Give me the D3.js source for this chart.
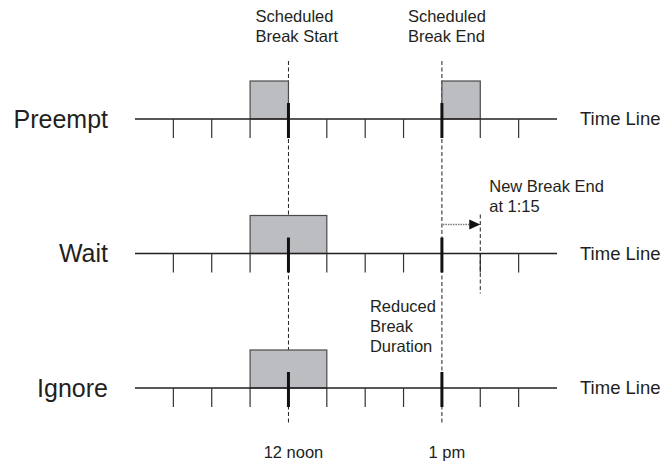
<!DOCTYPE html>
<html>
<head>
<meta charset="utf-8">
<script src="https://cdn.jsdelivr.net/npm/d3@7"></script>
<style>
  body { margin: 0; background: #fff; }
  text { font-family: "Liberation Sans", Arial, sans-serif; fill: #231f20; }
</style>
</head>
<body>
<div id="chart-area"></div>
<script>
// minutes relative to 12 noon
var rows = ["Preempt", "Wait", "Ignore"];
var tickMinutes = [-45, -30, -15, 0, 15, 30, 45, 60, 75, 90];
var majorMinutes = [0, 60];
var majorLabels = ["12 noon", "1 pm"];
var breakRows = ["Preempt", "Preempt", "Wait", "Ignore"];
var breakStarts = [-15, 60, -15, -15];
var breakEnds = [0, 75, 15, 15];
var newBreakEnd = 75;

var width = 667, height = 464;

var svg = d3.select("#chart-area").append("svg")
    .attr("width", width)
    .attr("height", height)

var x = d3.scaleLinear().domain([-60, 105]).range([135, 557]);
var y = d3.scalePoint().domain(rows).range([119, 388]);

// dashed guides at scheduled start / end
svg.selectAll(".guide")
    .data(majorMinutes)
    .enter().append("line")
    .attr("class", "guide")
    .attr("x1", (d) => {return x(d)})
    .attr("x2", (d) => {return x(d)})
    .attr("y1", 61)
    .attr("y2", 425)
    .attr("stroke", "#231f20")
    .attr("stroke-width", 1)
    .attr("stroke-dasharray", "4,2.5")

// break boxes
var breaks = breakRows.map((r, i) => {return {row: r, start: breakStarts[i], end: breakEnds[i]}});
svg.selectAll(".brk")
    .data(breaks)
    .enter().append("rect")
    .attr("class", "brk")
    .attr("x", (d) => {return x(d.start)})
    .attr("y", (d) => {return y(d.row) - 38})
    .attr("width", (d) => {return x(d.end) - x(d.start)})
    .attr("height", 38)
    .attr("fill", "#bcbdc0")
    .attr("stroke", "#4a4a4a")
    .attr("stroke-width", 1.2)

// time lines
rows.forEach((r) => {
    var g = svg.append("g").attr("transform", "translate(0, " + y(r) + ")");
    g.append("line")
        .attr("x1", x.range()[0])
        .attr("x2", x.range()[1])
        .attr("stroke", "#231f20")
        .attr("stroke-width", 1.3)
    g.selectAll(".tk")
        .data(tickMinutes.filter((d) => {return majorMinutes.indexOf(d) < 0}))
        .enter().append("line")
        .attr("class", "tk")
        .attr("x1", (d) => {return x(d)})
        .attr("x2", (d) => {return x(d)})
        .attr("y1", 0)
        .attr("y2", 19)
        .attr("stroke", "#333")
        .attr("stroke-width", 1.2)
    g.selectAll(".major")
        .data(majorMinutes)
        .enter().append("line")
        .attr("class", "major")
        .attr("x1", (d) => {return x(d)})
        .attr("x2", (d) => {return x(d)})
        .attr("y1", -16)
        .attr("y2", 19)
        .attr("stroke", "#111")
        .attr("stroke-width", 3)
    g.append("text")
        .attr("x", 108)
        .attr("y", 0)
        .attr("dy", "0.35em")
        .attr("text-anchor", "end")
        .style("font-size", "25px")
        .text(r)
    g.append("text")
        .attr("x", 580)
        .attr("y", 0)
        .attr("dy", "0.35em")
        .style("font-size", "18.5px")
        .text("Time Line")
})

// bottom time labels
svg.selectAll(".tlabel")
    .data(majorMinutes)
    .enter().append("text")
    .attr("class", "tlabel")
    .attr("x", (d) => {return x(d) + 5})
    .attr("y", 458)
    .attr("text-anchor", "middle")
    .style("font-size", "16.5px")
    .text((d, i) => {return majorLabels[i]})

function multiline(lines, x0, y0) {
    var t = svg.append("text").style("font-size", "16.5px");
    lines.forEach((s, i) => {
        t.append("tspan").attr("x", x0).attr("y", y0 + i * 20).text(s)
    })
}
multiline(["Scheduled", "Break Start"], x(0) - 33, 22)
multiline(["Scheduled", "Break End"], x(60) - 34, 22)
multiline(["New Break End", "at 1:15"], x(newBreakEnd) + 9, 192)
multiline(["Reduced", "Break", "Duration"], x(60) - 72, 312)

// extension of the break in Wait
var yw = y("Wait");
svg.append("line")
    .attr("x1", x(newBreakEnd))
    .attr("x2", x(newBreakEnd))
    .attr("y1", yw - 39)
    .attr("y2", yw + 40)
    .attr("stroke", "#231f20")
    .attr("stroke-width", 1)
    .attr("stroke-dasharray", "4,2.5")
svg.append("line")
    .attr("x1", x(60) + 1)
    .attr("x2", x(newBreakEnd) - 10)
    .attr("y1", yw - 29)
    .attr("y2", yw - 29)
    .attr("stroke", "#777")
    .attr("stroke-width", 1.5)
    .attr("stroke-dasharray", "1.5,1")
svg.append("path")
    .attr("d", d3.line()([[x(newBreakEnd) - 11, yw - 34], [x(newBreakEnd), yw - 29], [x(newBreakEnd) - 11, yw - 24]]) + "Z")
    .attr("fill", "#111")
</script>
</body>
</html>
